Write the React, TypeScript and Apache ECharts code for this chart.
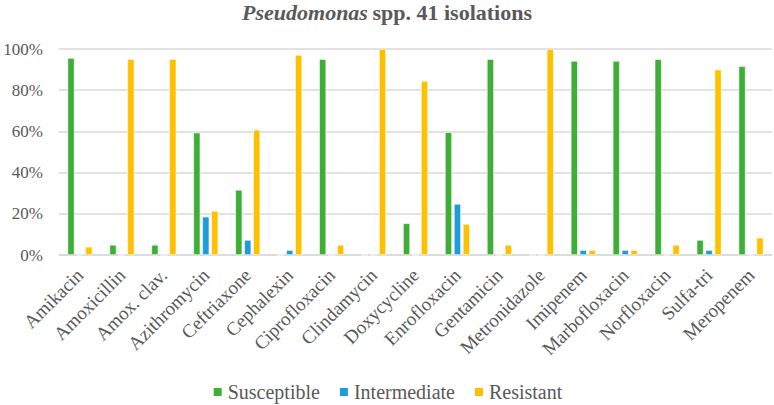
import { useEffect, useRef } from 'react'
import * as echarts from 'echarts'

const drugs = [
  'Amikacin',
  'Amoxicillin',
  'Amox. clav.',
  'Azithromycin',
  'Ceftriaxone',
  'Cephalexin',
  'Ciprofloxacin',
  'Clindamycin',
  'Doxycycline',
  'Enrofloxacin',
  'Gentamicin',
  'Metronidazole',
  'Imipenem',
  'Marbofloxacin',
  'Norfloxacin',
  'Sulfa-tri',
  'Meropenem',
]

// fractions of the 41 isolates
const susceptible = [0.956, 0.049, 0.049, 0.594, 0.316, 0, 0.951, 0, 0.154, 0.596, 0.951, 0, 0.942, 0.942, 0.951, 0.073, 0.916]
const intermediate = [0, 0, 0, 0.186, 0.073, 0.024, 0, 0, 0, 0.248, 0, 0, 0.024, 0.024, 0, 0.024, 0]
const resistant = [0.04, 0.951, 0.951, 0.214, 0.608, 0.971, 0.049, 1.0, 0.845, 0.15, 0.049, 1.0, 0.024, 0.024, 0.049, 0.9, 0.084]

const yTicks = [0, 0.2, 0.4, 0.6, 0.8, 1.0]

const FONT = 'serif'
const GREY = '#595959'

export default function App() {
  const chartRef = useRef<HTMLDivElement>(null)

  useEffect(() => {
    if (!chartRef.current) return
    const chart = echarts.init(chartRef.current, undefined, { renderer: 'svg' })

    const barStyle = (color: string) => ({
      color,
      borderColor: '#ffffff',
      borderWidth: 0.6,
    })

    const option: echarts.EChartsOption = {
      animation: false,
      backgroundColor: '#ffffff',
      textStyle: { fontFamily: FONT },
      title: {
        text: '{i|Pseudomonas} {b|spp. 41 isolations}',
        left: 'center',
        top: 0,
        padding: [1, 5, 5, 5],
        textStyle: {
          fontFamily: FONT,
          rich: {
            i: { fontFamily: FONT, fontSize: 22, fontWeight: 'bold', fontStyle: 'italic', color: GREY },
            b: { fontFamily: FONT, fontSize: 22, fontWeight: 'bold', color: GREY },
          },
        },
      },
      legend: {
        top: 382,
        padding: 0,
        left: 'center',
        itemWidth: 10,
        itemHeight: 10,
        itemGap: 18,
        icon: 'rect',
        textStyle: {
          fontFamily: FONT,
          fontSize: 20,
          color: GREY,
        },
        data: ['Susceptible', 'Intermediate', 'Resistant'],
      },
      grid: {
        left: 59,
        right: 2,
        top: 49,
        bottom: 150,
      },
      xAxis: {
        type: 'category',
        data: drugs,
        axisLine: { lineStyle: { color: '#d9d9d9', width: 1.5 } },
        axisTick: { show: false },
        axisLabel: {
          rotate: 45,
          interval: 0,
          margin: 17,
          fontFamily: FONT,
          fontSize: 19,
          color: GREY,
        },
      },
      yAxis: {
        type: 'value',
        min: yTicks[0],
        max: yTicks[yTicks.length - 1],
        interval: 0.2,
        axisLine: { show: false },
        axisTick: { show: false },
        splitLine: { lineStyle: { color: '#d9d9d9', width: 1.5 } },
        axisLabel: {
          fontFamily: FONT,
          fontSize: 17,
          color: GREY,
          margin: 16,
          formatter: (v: number) => `${Math.round(v * 100)}%`,
        },
      },
      series: [
        {
          name: 'Susceptible',
          type: 'bar',
          data: susceptible,
          barWidth: 7,
          barGap: '28%',
          itemStyle: barStyle('#3fae37'),
        },
        {
          name: 'Intermediate',
          type: 'bar',
          data: intermediate,
          barWidth: 7,
          barGap: '28%',
          itemStyle: barStyle('#1e9cd7'),
        },
        {
          name: 'Resistant',
          type: 'bar',
          data: resistant,
          barWidth: 7,
          barGap: '28%',
          itemStyle: barStyle('#ffc000'),
        },
      ],
    }

    chart.setOption(option)
    return () => {
      chart.dispose()
    }
  }, [])

  return (
    <div
      ref={chartRef}
      style={{ position: 'fixed', left: 0, top: 0, width: 774, height: 405 }}
    />
  )
}
